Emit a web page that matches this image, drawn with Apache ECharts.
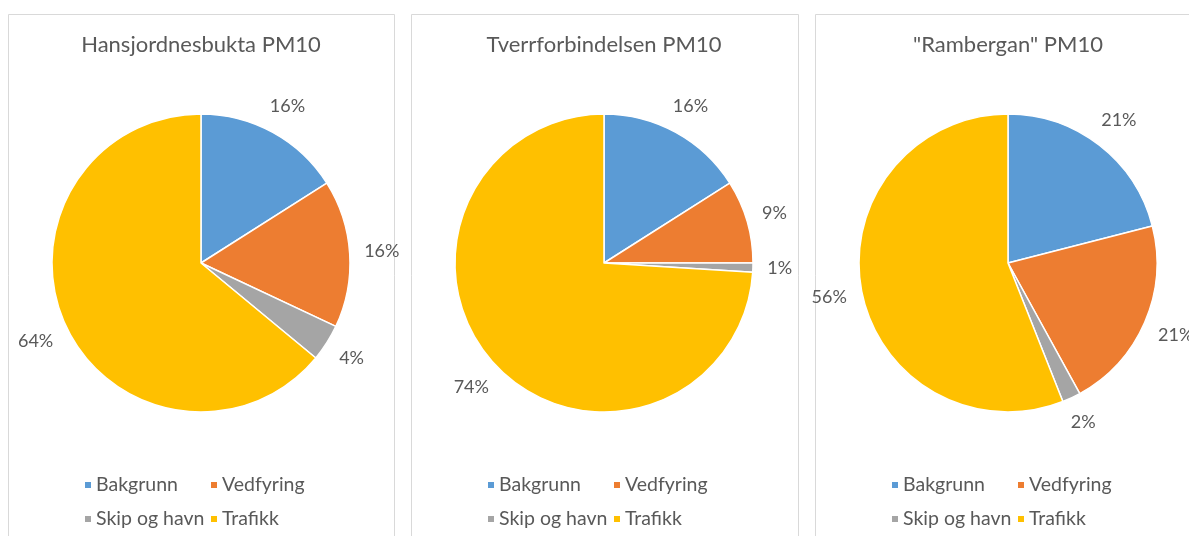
<!DOCTYPE html>
<html>
<head>
<meta charset="utf-8">
<script src="https://cdn.jsdelivr.net/npm/echarts@6/dist/echarts.min.js"></script>
<style>
  html, body { margin: 0; padding: 0; background: #fff; overflow: hidden; }
  #chart { width: 1189px; height: 536px; }
</style>
</head>
<body>
<div id="chart"></div>
<script>
// Source shares of PM10 (percent) at three locations
const categories = ['Bakgrunn', 'Vedfyring', 'Skip og havn', 'Trafikk'];
const siteTitles = ['Hansjordnesbukta PM10', 'Tverrforbindelsen PM10', '"Rambergan" PM10'];
const hansjordnesbukta = [16, 16, 4, 64];
const tverrforbindelsen = [16, 9, 1, 74];
const rambergan = [21, 21, 2, 56];
const siteValues = [hansjordnesbukta, tverrforbindelsen, rambergan];

const colors = ['#5B9BD5', '#ED7D31', '#A5A5A5', '#FFC000'];
const TEXT = '#595959';
const FONT = 'Lato, Carlito, Calibri, sans-serif';

// Panel frames and pie geometry
const panels = [{ x: 8, w: 386 }, { x: 411, w: 387 }, { x: 815, w: 386 }];
const PANEL_TOP = 14;
const PIE_CY = 263;
const PIE_R = 149;
const LABEL_GAP = 14;
const pieCx = p => p.x + 193;

// mid angle (radians, clockwise from 12 o'clock) of each slice
function midAngle(values, idx) {
  const total = values.reduce((a, b) => a + b, 0);
  let before = 0;
  for (let i = 0; i < idx; i++) before += values[i];
  return (before + values[idx] / 2) / total * Math.PI * 2;
}

const chart = echarts.init(document.getElementById('chart'), null, { renderer: 'canvas' });

const graphic = [];
panels.forEach((p, k) => {
  graphic.push({
    type: 'rect', silent: true, z: 0,
    shape: { x: p.x + 0.5, y: PANEL_TOP + 0.5, width: p.w, height: 600 },
    style: { fill: '#fff', stroke: '#D9D9D9', lineWidth: 1 }
  });
  graphic.push({
    type: 'text', silent: true, z: 10,
    x: pieCx(p), y: 45,
    style: {
      text: siteTitles[k], fill: TEXT, font: '22px ' + FONT,
      align: 'center', verticalAlign: 'middle'
    }
  });
});

const legends = [];
panels.forEach(p => {
  const common = {
    orient: 'vertical', padding: 0, itemGap: 14,
    itemWidth: 8, itemHeight: 8, icon: 'rect', selectedMode: false,
    textStyle: { color: TEXT, fontFamily: FONT, fontSize: 19.5, padding: [0, 0, 0, -1] }
  };
  legends.push(Object.assign({}, common, { left: p.x + 75, top: 475, data: [categories[0], categories[2]] }));
  legends.push(Object.assign({}, common, { left: p.x + 201, top: 475, data: [categories[1], categories[3]] }));
});

const series = siteValues.map((vals, s) => ({
  type: 'pie',
  name: siteTitles[s],
  center: [pieCx(panels[s]), PIE_CY],
  radius: PIE_R,
  startAngle: 90,
  clockwise: true,
  avoidLabelOverlap: false,
  silent: true,
  animation: false,
  itemStyle: { borderColor: '#fff', borderWidth: 1.5 },
  label: {
    show: true, position: 'outside', formatter: '{c}%',
    color: TEXT, fontFamily: FONT, fontSize: 18
  },
  labelLine: { show: false },
  labelLayout: function (params) {
    const a = midAngle(vals, params.dataIndex);
    const dx = Math.sin(a), dy = -Math.cos(a);
    const w = params.labelRect.width, h = params.labelRect.height;
    const ext = w / 2 * Math.abs(dx) + h / 2 * Math.abs(dy);
    const d = PIE_R + LABEL_GAP + ext;
    return {
      x: pieCx(panels[s]) + d * dx,
      y: PIE_CY + d * dy,
      align: 'center',
      verticalAlign: 'middle'
    };
  },
  data: categories.map((c, i) => ({ name: c, value: vals[i] }))
}));

chart.setOption({
  backgroundColor: '#fff',
  animation: false,
  color: colors,
  graphic: graphic,
  legend: legends,
  series: series
});
</script>
</body>
</html>
